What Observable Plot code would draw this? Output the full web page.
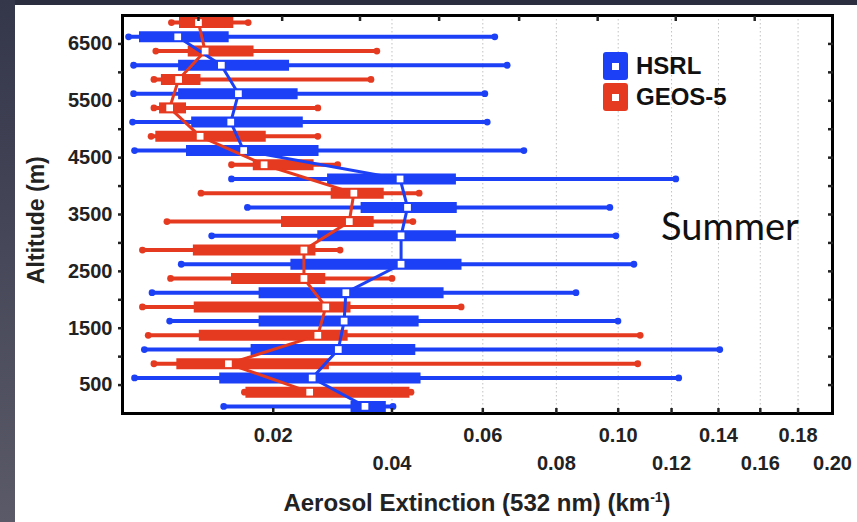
<!DOCTYPE html>
<html><head><meta charset="utf-8">
<script src="https://cdn.jsdelivr.net/npm/d3@7"></script>
<script src="https://cdn.jsdelivr.net/npm/@observablehq/plot@0.6"></script>
<style>
html,body{margin:0;padding:0;width:857px;height:522px;overflow:hidden;background:#2b2e3f;}
#strip{position:absolute;left:0;top:0;width:15px;height:522px;background:linear-gradient(#34364a,#5a5a68);}
#panel{position:absolute;left:15px;top:5px;width:842px;height:517px;background:#fff;font-family:"Liberation Sans",Arial,sans-serif;}
#chart{position:absolute;left:0;top:0;}
.ttl{position:absolute;font-weight:bold;color:#222;white-space:nowrap;}
#xt{left:0;width:924px;text-align:center;top:484px;font-size:24px;}
#yt{left:8px;top:279px;font-size:23px;transform-origin:0 0;transform:rotate(-90deg);}
#legend{position:absolute;left:588px;top:47px;width:200px;}
.li{position:relative;height:31px;}
.sw{position:absolute;left:0;top:0;width:25px;height:28px;border-radius:3px;}
.sw i{position:absolute;left:9px;top:11px;width:7px;height:7px;background:#fff;}
.li span{position:absolute;left:33px;top:1px;font-size:24px;font-weight:bold;color:#111;line-height:26px;white-space:nowrap;}
#summer{position:absolute;left:646px;top:197px;font-family:Lato,"Open Sans",sans-serif;font-size:38px;color:#111;}
</style></head>
<body>
<div id="strip"></div>
<div id="panel">
  <div id="chart"></div>
  <div id="xt" class="ttl">Aerosol Extinction (532 nm) (km<sup style="font-size:14px">-1</sup>)</div>
  <div id="yt" class="ttl"></div>
  <div id="legend"></div>
  <div id="summer">Summer</div>
</div>
<script>
// ---- data ----
const seriesNames = ["HSRL", "GEOS-5"];
const seriesColors = ["#1c40f5", "#e63a20"];

const hsrlAlt = [6625, 6125, 5625, 5125, 4625, 4125, 3625, 3125, 2625, 2125, 1625, 1125, 625, 125];
const hsrlMin = [0.0026, 0.0031, 0.0031, 0.0030, 0.0032, 0.0143, 0.0164, 0.0118, 0.0082, 0.0050, 0.0069, 0.0042, 0.0032, 0.0133];
const hsrlQ1  = [0.0037, 0.0079, 0.0079, 0.0094, 0.0088, 0.0284, 0.0342, 0.0268, 0.0226, 0.0180, 0.0180, 0.0169, 0.0128, 0.0324];
const hsrlMed = [0.0078, 0.0130, 0.0152, 0.0142, 0.0159, 0.0416, 0.0431, 0.0418, 0.0418, 0.0315, 0.0312, 0.0302, 0.0259, 0.0349];
const hsrlQ3  = [0.0140, 0.0224, 0.0237, 0.0245, 0.0270, 0.0537, 0.0539, 0.0537, 0.0550, 0.0509, 0.0455, 0.0448, 0.0459, 0.0389];
const hsrlMax = [0.0630, 0.0662, 0.0605, 0.0611, 0.0707, 0.1217, 0.0971, 0.0992, 0.1056, 0.0860, 0.0999, 0.1406, 0.1229, 0.0402];

const geosAlt = [6875, 6375, 5875, 5375, 4875, 4375, 3875, 3375, 2875, 2375, 1875, 1375, 875, 375];
const geosMin = [0.0071, 0.0054, 0.0052, 0.0052, 0.0049, 0.0143, 0.0105, 0.0066, 0.0040, 0.0070, 0.0040, 0.0046, 0.0052, 0.0160];
const geosQ1  = [0.0080, 0.0090, 0.0060, 0.0058, 0.0054, 0.0172, 0.0290, 0.0212, 0.0096, 0.0143, 0.0097, 0.0103, 0.0077, 0.0162];
const geosMed = [0.0102, 0.0110, 0.0079, 0.0069, 0.0104, 0.0187, 0.0329, 0.0321, 0.0246, 0.0246, 0.0281, 0.0268, 0.0139, 0.0255];
const geosQ3  = [0.0146, 0.0173, 0.0105, 0.0088, 0.0190, 0.0262, 0.0385, 0.0366, 0.0265, 0.0281, 0.0324, 0.0319, 0.0287, 0.0436];
const geosMax = [0.0165, 0.0371, 0.0360, 0.0268, 0.0268, 0.0301, 0.0455, 0.0442, 0.0305, 0.0400, 0.0548, 0.1079, 0.1070, 0.0438];

const xTicksRow1 = [0.02, 0.06, 0.10, 0.14, 0.18];
const xTicksRow2 = [0.04, 0.08, 0.12, 0.16, 0.20];
const xTickMarks = [0.02, 0.04, 0.06, 0.08, 0.10, 0.12, 0.14, 0.16, 0.18];
const xGrid = [0.04, 0.06, 0.08, 0.10, 0.12, 0.14, 0.16, 0.18];
const xTopTicks = [0.0102, 0.0213, 0.0340, 0.0498, 0.0694, 0.0930, 0.1217, 0.1572];
const yTicks = [500, 1000, 1500, 2000, 2500, 3000, 3500, 4000, 4500, 5000, 5500, 6000, 6500];
const yLabels = [500, 1500, 2500, 3500, 4500, 5500, 6500];

const yTitle = "Altitude (m)";
const seasonLabel = "Summer";

// ---- build tables ----
function build(name, alt, mn, q1, md, q3, mx) {
  return alt.map((a, i) => ({series: name, alt: a, min: mn[i], q1: q1[i], med: md[i], q3: q3[i], max: mx[i]}));
}
const hsrl = build(seriesNames[0], hsrlAlt, hsrlMin, hsrlQ1, hsrlMed, hsrlQ3, hsrlMax);
const geos = build(seriesNames[1], geosAlt, geosMin, geosQ1, geosMed, geosQ3, geosMax);
const all = hsrl.concat(geos);

document.getElementById("yt").textContent = yTitle;

const chart = Plot.plot({
  width: 842, height: 517,
  marginLeft: 107, marginRight: 25, marginTop: 10, marginBottom: 109,
  style: {background: "transparent", fontFamily: "'Liberation Sans', Arial, sans-serif", fontSize: "20px", fontWeight: "bold", color: "#222"},
  x: {type: "symlog", constant: 0.036, domain: [0.002, 0.2]},
  y: {domain: [0, 7000]},
  color: {domain: seriesNames, range: seriesColors},
  marks: [
    Plot.gridX(xGrid, {stroke: "#9a9a9a", strokeOpacity: 0.6, strokeDasharray: "1.5,2.5", strokeWidth: 1}),
    Plot.ruleY(all, {y: "alt", x1: "min", x2: "max", stroke: "series", strokeWidth: 4}),
    Plot.dot(all, {x: "min", y: "alt", r: 3.4, fill: "series"}),
    Plot.dot(all, {x: "max", y: "alt", r: 3.4, fill: "series"}),
    Plot.ruleY(all, {y: "alt", x1: "q1", x2: "q3", stroke: "series", strokeWidth: 11}),
    Plot.line(hsrl, {x: "med", y: "alt", stroke: "series", strokeWidth: 3}),
    Plot.line(geos, {x: "med", y: "alt", stroke: "series", strokeWidth: 3}),
    Plot.dot(all, {x: "med", y: "alt", symbol: "square", r: 3.8, fill: "white"}),
    Plot.frame({stroke: "black", strokeWidth: 3}),
    Plot.axisX({ticks: xTickMarks, tickSize: -5, strokeWidth: 2.5, tickFormat: () => "", label: null}),
    Plot.axisX({anchor: "top", ticks: xTopTicks, tickSize: -5, strokeWidth: 2.5, tickFormat: () => "", label: null}),
    Plot.axisX({ticks: xTicksRow1, tickSize: 0, tickPadding: 14, tickFormat: d => d.toFixed(2), fill: "#222", label: null}),
    Plot.axisX({ticks: xTicksRow2, tickSize: 0, tickPadding: 42, tickFormat: d => d.toFixed(2), fill: "#222", label: null}),
    Plot.axisY({ticks: yTicks, tickSize: 4, tickPadding: 6, strokeWidth: 2.5, tickFormat: d => yLabels.includes(d) ? String(d) : "", fill: "#222", label: null}),
    Plot.axisY({anchor: "right", ticks: yTicks, tickSize: -5, strokeWidth: 2.5, tickFormat: () => "", label: null})
  ]
});
document.getElementById("chart").appendChild(chart);

// legend
const lg = document.getElementById("legend");
seriesNames.forEach((n, i) => {
  const row = document.createElement("div");
  row.className = "li";
  row.innerHTML = `<div class="sw" style="background:${seriesColors[i]}"><i></i></div><span>${n}</span>`;
  lg.appendChild(row);
});
document.getElementById("summer").textContent = seasonLabel;
</script>
</body></html>
